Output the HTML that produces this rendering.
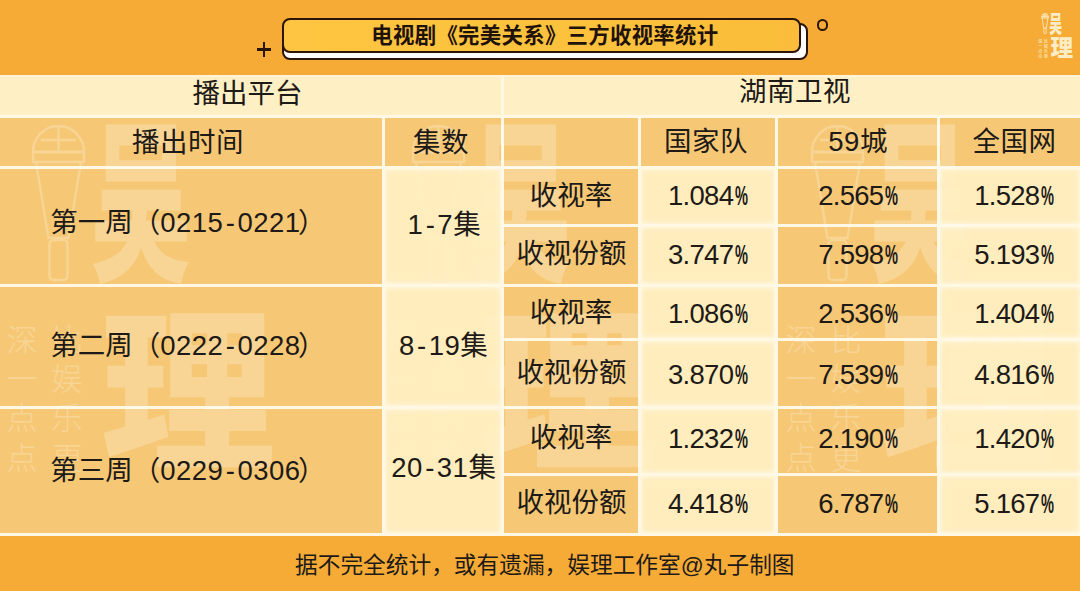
<!DOCTYPE html>
<html lang="zh-CN">
<head>
<meta charset="utf-8">
<title>电视剧《完美关系》三方收视率统计</title>
<style>
html,body{margin:0;padding:0}
body{width:1080px;height:591px;overflow:hidden;position:relative;background:#F5AB36;
 font-family:"Liberation Sans","Noto Sans CJK SC",sans-serif;color:#1d1a17}
#tbl{position:absolute;left:0;top:74px;width:1080px;height:462px;background:linear-gradient(#F5AB36 0,#F5AB36 1px,#FFF4D8 1px,#FFF4D8 3px,#FFF8E4 3px)}
.c{position:absolute;display:flex;align-items:center;justify-content:center;
 font-size:27.5px;line-height:1;white-space:nowrap;box-sizing:border-box}
.c span{display:block;position:relative;z-index:2}
.c b{font-weight:400}
.c i{font-style:normal;display:inline-block}
.cream{background:#FFEFC4}
.tan{background:#F6C875}
.light{z-index:1;background:rgba(255,233,175,.72);box-shadow:inset 0 0 5px 1px rgba(255,249,232,.85)}
.hb{letter-spacing:0.5px}
.d{letter-spacing:0.5px}
.n{letter-spacing:-0.7px}
.pc{width:13.5px;margin-left:1.3px;font-weight:700;transform:scaleX(.53);transform-origin:0 50%;letter-spacing:0}
.hy{margin:0 2px 0 2.3px}
.pr{margin-left:-2.5px}
#pillb{position:absolute;left:282px;top:23px;width:522px;height:32.5px;border:2px solid #2b1408;border-radius:8px;background:#fffdfb}
#pillf{position:absolute;left:282px;top:18px;width:515px;height:31px;border:2px solid #2b1408;border-radius:8px;
 background:linear-gradient(90deg,#fdc541,#fcc23d 55%,#fabc3a);display:flex;align-items:center;justify-content:center;
 font-weight:700;font-size:21.4px;line-height:1;letter-spacing:0.3px;color:#1f120a}
#pillf span{position:relative;left:3.4px;top:0.8px}
#plus{position:absolute;left:257px;top:42px;width:14px;height:15px}
#plus:before{content:"";position:absolute;left:0;top:6.1px;width:14px;height:2.8px;background:#2b1408}
#plus:after{content:"";position:absolute;left:5.6px;top:0;width:2.8px;height:15px;background:#2b1408}
#circ{position:absolute;left:816.7px;top:18.9px;width:7.8px;height:7.8px;border:2.2px solid #2b1408;border-radius:50%}
#wm{position:absolute;left:0;top:1px;pointer-events:none;z-index:0}
#logo{position:absolute;left:1020px;top:0}
#foot{position:absolute;left:0;top:536px;width:1080px;height:55px;display:flex;align-items:center;justify-content:center;
 font-size:22.7px;line-height:1;color:#1d1a17}
#foot span{position:relative;left:4.8px;top:1.6px}
</style>
</head>
<body>
<div id="plus"></div>
<div id="pillb"></div>
<div id="pillf"><span>电视剧《完美关系》三方收视率统计</span></div>
<div id="circ"></div>
<div id="tbl">
<div class="c cream ha" style="left:0px;top:2.5px;width:501px;height:38.0px"><span style="left:-3.0px;top:-1.6px">播出平台</span></div>
<div class="c cream hb" style="left:504px;top:2.5px;width:576px;height:38.0px"><span style="left:3.1px;top:-3.4px">湖南卫视</span></div>
<div class="c tan hb" style="left:0px;top:43.5px;width:382px;height:48.5px"><span style="left:-3.0px;top:1.4px">播出时间</span></div>
<div class="c tan hb" style="left:385px;top:43.5px;width:116px;height:48.5px"><span style="left:-1.9px;top:0.6px">集数</span></div>
<div class="c tan hb" style="left:504px;top:43.5px;width:134px;height:48.5px"></div>
<div class="c tan hb" style="left:641px;top:43.5px;width:134px;height:48.5px"><span style="left:-2.0px;top:0.0px">国家队</span></div>
<div class="c tan hb" style="left:778px;top:43.5px;width:159px;height:48.5px"><span style="left:0.6px;top:0.0px"><b class="d">59</b>城</span></div>
<div class="c tan hb" style="left:940px;top:43.5px;width:140px;height:48.5px"><span style="left:4.4px;top:-0.5px">全国网</span></div>
<div class="c tan wk" style="left:0px;top:95px;width:382px;height:115px"><span style="left:-3.1px;top:-3.5px">第一周（<b class='d'>0215<i class="hy">-</i>0221</b><i class='pr'>）</i></span></div>
<div class="c light ep" style="left:385px;top:95px;width:116px;height:115px"><span style="left:1.1px;top:-1.9px"><b class='d'>1<i class="hy">-</i>7</b>集</span></div>
<div class="c tan wk" style="left:0px;top:213px;width:382px;height:119px"><span style="left:-3.1px;top:-0.7px">第二周（<b class='d'>0222<i class="hy">-</i>0228</b><i class='pr'>）</i></span></div>
<div class="c light ep" style="left:385px;top:213px;width:116px;height:119px"><span style="left:0.4px;top:-1.1px"><b class='d'>8<i class="hy">-</i>19</b>集</span></div>
<div class="c tan wk" style="left:0px;top:335px;width:382px;height:124px"><span style="left:-3.1px;top:-0.6px">第三周（<b class='d'>0229<i class="hy">-</i>0306</b><i class='pr'>）</i></span></div>
<div class="c light ep" style="left:385px;top:335px;width:116px;height:124px"><span style="left:0.6px;top:-3.0px"><b class='d'>20<i class="hy">-</i>31</b>集</span></div>
<div class="c tan lb" style="left:504px;top:95px;width:134px;height:55px"><span style="left:0.1px;top:-0.6px">收视率</span></div>
<div class="c light n" style="left:641px;top:95px;width:134px;height:55px"><span style="left:0.0px;top:-0.6px">1.084<i class="pc">%</i></span></div>
<div class="c tan n" style="left:778px;top:95px;width:159px;height:55px"><span style="left:0.7px;top:-0.6px">2.565<i class="pc">%</i></span></div>
<div class="c light n" style="left:940px;top:95px;width:140px;height:55px"><span style="left:4.2px;top:-0.6px">1.528<i class="pc">%</i></span></div>
<div class="c tan lb" style="left:504px;top:153px;width:134px;height:57px"><span style="left:0.4px;top:-2.0px">收视份额</span></div>
<div class="c light n" style="left:641px;top:153px;width:134px;height:57px"><span style="left:0.0px;top:-0.4px">3.747<i class="pc">%</i></span></div>
<div class="c tan n" style="left:778px;top:153px;width:159px;height:57px"><span style="left:0.7px;top:-0.4px">7.598<i class="pc">%</i></span></div>
<div class="c light n" style="left:940px;top:153px;width:140px;height:57px"><span style="left:4.2px;top:-0.4px">5.193<i class="pc">%</i></span></div>
<div class="c tan lb" style="left:504px;top:213px;width:134px;height:51px"><span style="left:0.1px;top:0.0px">收视率</span></div>
<div class="c light n" style="left:641px;top:213px;width:134px;height:51px"><span style="left:0.0px;top:1.2px">1.086<i class="pc">%</i></span></div>
<div class="c tan n" style="left:778px;top:213px;width:159px;height:51px"><span style="left:0.7px;top:1.2px">2.536<i class="pc">%</i></span></div>
<div class="c light n" style="left:940px;top:213px;width:140px;height:51px"><span style="left:4.2px;top:1.2px">1.404<i class="pc">%</i></span></div>
<div class="c tan lb" style="left:504px;top:267px;width:134px;height:65px"><span style="left:0.4px;top:-0.4px">收视份额</span></div>
<div class="c light n" style="left:641px;top:267px;width:134px;height:65px"><span style="left:0.0px;top:1.0px">3.870<i class="pc">%</i></span></div>
<div class="c tan n" style="left:778px;top:267px;width:159px;height:65px"><span style="left:0.7px;top:1.0px">7.539<i class="pc">%</i></span></div>
<div class="c light n" style="left:940px;top:267px;width:140px;height:65px"><span style="left:4.2px;top:1.0px">4.816<i class="pc">%</i></span></div>
<div class="c tan lb" style="left:504px;top:335px;width:134px;height:64px"><span style="left:0.1px;top:-2.8px">收视率</span></div>
<div class="c light n" style="left:641px;top:335px;width:134px;height:64px"><span style="left:0.0px;top:-2.0px">1.232<i class="pc">%</i></span></div>
<div class="c tan n" style="left:778px;top:335px;width:159px;height:64px"><span style="left:0.7px;top:-2.0px">2.190<i class="pc">%</i></span></div>
<div class="c light n" style="left:940px;top:335px;width:140px;height:64px"><span style="left:4.2px;top:-2.0px">1.420<i class="pc">%</i></span></div>
<div class="c tan lb" style="left:504px;top:402px;width:134px;height:57px"><span style="left:0.4px;top:-1.4px">收视份额</span></div>
<div class="c light n" style="left:641px;top:402px;width:134px;height:57px"><span style="left:0.0px;top:-1.0px">4.418<i class="pc">%</i></span></div>
<div class="c tan n" style="left:778px;top:402px;width:159px;height:57px"><span style="left:0.7px;top:-1.0px">6.787<i class="pc">%</i></span></div>
<div class="c light n" style="left:940px;top:402px;width:140px;height:57px"><span style="left:4.2px;top:-1.0px">5.167<i class="pc">%</i></span></div>
<svg id="wm" width="1080" height="461" viewBox="0 75 1080 461"><g transform="translate(0,0) scale(1)" fill="#fff" opacity="0.23" font-family="&quot;Noto Sans CJK SC&quot;,sans-serif"><g fill="none" stroke="#fff" stroke-width="2.4" stroke-linejoin="round"><path d="M33 152 A25.5 26 0 0 1 84 152 Z"/><path d="M33 152 H84 V162 H33 Z"/><path d="M36 162 L48.5 238 H68.5 L81 162"/><path d="M41 140 H76 M58.5 127 V152"/><rect x="49.5" y="240" width="18" height="40" rx="4"/></g><text transform="translate(141,266) scale(0.58,1)" font-size="172" font-weight="700" text-anchor="middle" stroke="#fff" stroke-width="2.5" stroke-linejoin="miter" vector-effect="non-scaling-stroke">吴</text><text x="188" y="455" font-size="174" font-weight="700" text-anchor="middle" stroke="#fff" stroke-width="2.5" vector-effect="non-scaling-stroke">理</text><text x="22" y="350.5" font-size="31" font-weight="300" text-anchor="middle">深</text><text x="22" y="389.9" font-size="31" font-weight="300" text-anchor="middle">一</text><text x="22" y="429.3" font-size="31" font-weight="300" text-anchor="middle">点</text><text x="22" y="468.7" font-size="31" font-weight="300" text-anchor="middle">点</text><text x="67" y="350.5" font-size="31" font-weight="300" text-anchor="middle">比</text><text x="67" y="389.9" font-size="31" font-weight="300" text-anchor="middle">娱</text><text x="67" y="429.3" font-size="31" font-weight="300" text-anchor="middle">乐</text><text x="67" y="468.7" font-size="31" font-weight="300" text-anchor="middle">更</text></g><g transform="translate(380,0) scale(1)" fill="#fff" opacity="0.23" font-family="&quot;Noto Sans CJK SC&quot;,sans-serif"><g fill="none" stroke="#fff" stroke-width="2.4" stroke-linejoin="round"><path d="M33 152 A25.5 26 0 0 1 84 152 Z"/><path d="M33 152 H84 V162 H33 Z"/><path d="M36 162 L48.5 238 H68.5 L81 162"/><path d="M41 140 H76 M58.5 127 V152"/><rect x="49.5" y="240" width="18" height="40" rx="4"/></g><text transform="translate(141,266) scale(0.58,1)" font-size="172" font-weight="700" text-anchor="middle" stroke="#fff" stroke-width="2.5" stroke-linejoin="miter" vector-effect="non-scaling-stroke">吴</text><text x="188" y="455" font-size="174" font-weight="700" text-anchor="middle" stroke="#fff" stroke-width="2.5" vector-effect="non-scaling-stroke">理</text><text x="22" y="350.5" font-size="31" font-weight="300" text-anchor="middle">深</text><text x="22" y="389.9" font-size="31" font-weight="300" text-anchor="middle">一</text><text x="22" y="429.3" font-size="31" font-weight="300" text-anchor="middle">点</text><text x="22" y="468.7" font-size="31" font-weight="300" text-anchor="middle">点</text><text x="67" y="350.5" font-size="31" font-weight="300" text-anchor="middle">比</text><text x="67" y="389.9" font-size="31" font-weight="300" text-anchor="middle">娱</text><text x="67" y="429.3" font-size="31" font-weight="300" text-anchor="middle">乐</text><text x="67" y="468.7" font-size="31" font-weight="300" text-anchor="middle">更</text></g><g transform="translate(779,0) scale(1)" fill="#fff" opacity="0.23" font-family="&quot;Noto Sans CJK SC&quot;,sans-serif"><g fill="none" stroke="#fff" stroke-width="2.4" stroke-linejoin="round"><path d="M33 152 A25.5 26 0 0 1 84 152 Z"/><path d="M33 152 H84 V162 H33 Z"/><path d="M36 162 L48.5 238 H68.5 L81 162"/><path d="M41 140 H76 M58.5 127 V152"/><rect x="49.5" y="240" width="18" height="40" rx="4"/></g><text transform="translate(141,266) scale(0.58,1)" font-size="172" font-weight="700" text-anchor="middle" stroke="#fff" stroke-width="2.5" stroke-linejoin="miter" vector-effect="non-scaling-stroke">吴</text><text x="188" y="455" font-size="174" font-weight="700" text-anchor="middle" stroke="#fff" stroke-width="2.5" vector-effect="non-scaling-stroke">理</text><text x="22" y="350.5" font-size="31" font-weight="300" text-anchor="middle">深</text><text x="22" y="389.9" font-size="31" font-weight="300" text-anchor="middle">一</text><text x="22" y="429.3" font-size="31" font-weight="300" text-anchor="middle">点</text><text x="22" y="468.7" font-size="31" font-weight="300" text-anchor="middle">点</text><text x="67" y="350.5" font-size="31" font-weight="300" text-anchor="middle">比</text><text x="67" y="389.9" font-size="31" font-weight="300" text-anchor="middle">娱</text><text x="67" y="429.3" font-size="31" font-weight="300" text-anchor="middle">乐</text><text x="67" y="468.7" font-size="31" font-weight="300" text-anchor="middle">更</text></g></svg>
</div>
<svg id="logo" width="60" height="75" viewBox="1020 0 60 75"><g transform="translate(1037.4,-3.0) scale(0.1304)" fill="#FFF0CC" opacity="0.95" font-family="&quot;Noto Sans CJK SC&quot;,sans-serif"><g fill="none" stroke="#FFF0CC" stroke-width="6.5" stroke-linejoin="round"><path d="M33 152 A25.5 26 0 0 1 84 152 Z"/><path d="M33 152 H84 V162 H33 Z"/><path d="M36 162 L48.5 238 H68.5 L81 162"/><path d="M41 140 H76 M58.5 127 V152"/><rect x="49.5" y="240" width="18" height="40" rx="4"/></g><text transform="translate(141,266) scale(0.58,1)" font-size="172" font-weight="900" text-anchor="middle" stroke="#FFF0CC" stroke-width="0" stroke-linejoin="miter" vector-effect="non-scaling-stroke">吴</text><text x="188" y="455" font-size="174" font-weight="900" text-anchor="middle" stroke="#FFF0CC" stroke-width="0" vector-effect="non-scaling-stroke">理</text><text x="22" y="350.5" font-size="31" font-weight="500" text-anchor="middle">深</text><text x="22" y="389.9" font-size="31" font-weight="500" text-anchor="middle">一</text><text x="22" y="429.3" font-size="31" font-weight="500" text-anchor="middle">点</text><text x="22" y="468.7" font-size="31" font-weight="500" text-anchor="middle">点</text><text x="67" y="350.5" font-size="31" font-weight="500" text-anchor="middle">比</text><text x="67" y="389.9" font-size="31" font-weight="500" text-anchor="middle">娱</text><text x="67" y="429.3" font-size="31" font-weight="500" text-anchor="middle">乐</text><text x="67" y="468.7" font-size="31" font-weight="500" text-anchor="middle">更</text></g></svg>
<div id="foot"><span>据不完全统计，或有遗漏，娱理工作室@丸子制图</span></div>
</body>
</html>
